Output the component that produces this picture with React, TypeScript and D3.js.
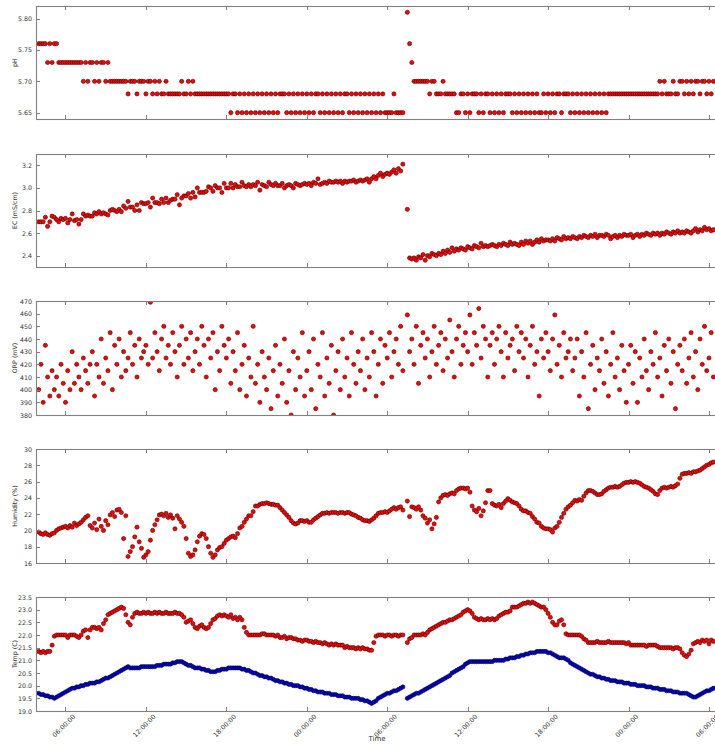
import React from 'react';
import * as d3 from 'd3';

// samples every 10 minutes starting at 04:00 on day 1; one row = 2 hours
const START = new Date(2015, 0, 1, 4, 0);
const STEP_MIN = 10;

const phValues: (number | null)[] = [
  5.76, 5.76, 5.76, 5.76, 5.73, 5.76, 5.73, 5.76, 5.76, 5.73, 5.73, 5.73,
  5.73, 5.73, 5.73, 5.73, 5.73, 5.73, 5.73, 5.73, 5.70, 5.73, 5.70, 5.73,
  5.73, 5.70, 5.73, 5.70, 5.73, 5.73, 5.70, 5.73, 5.70, 5.70, 5.70, 5.70,
  5.70, 5.70, 5.70, 5.70, 5.68, 5.70, 5.70, 5.70, 5.68, 5.70, 5.70, 5.70,
  5.68, 5.70, 5.70, 5.68, 5.70, 5.68, 5.70, 5.68, 5.68, 5.70, 5.68, 5.68,
  5.68, 5.68, 5.68, 5.68, 5.70, 5.68, 5.68, 5.70, 5.68, 5.70, 5.68, 5.68,
  5.68, 5.68, 5.68, 5.68, 5.68, 5.68, 5.68, 5.68, 5.68, 5.68, 5.68, 5.68,
  5.68, 5.68, 5.65, 5.68, 5.68, 5.65, 5.68, 5.65, 5.68, 5.65, 5.68, 5.65,
  5.68, 5.65, 5.68, 5.65, 5.68, 5.65, 5.68, 5.65, 5.68, 5.65, 5.68, 5.65,
  5.68, 5.68, 5.68, 5.65, 5.68, 5.65, 5.68, 5.65, 5.68, 5.65, 5.68, 5.65,
  5.68, 5.65, 5.68, 5.65, 5.68, 5.68, 5.65, 5.68, 5.65, 5.68, 5.65, 5.68,
  5.65, 5.68, 5.65, 5.68, 5.65, 5.68, 5.68, 5.65, 5.68, 5.65, 5.68, 5.65,
  5.68, 5.65, 5.68, 5.65, 5.68, 5.65, 5.68, 5.65, 5.68, 5.65, 5.68, 5.65,
  5.65, 5.65, 5.65, 5.68, 5.65, 5.65, 5.65, 5.65, null, 5.81, 5.76, 5.73,
  5.70, 5.70, 5.70, 5.70, 5.70, 5.70, 5.70, 5.68, 5.70, 5.70, 5.68, 5.68,
  5.68, 5.70, 5.68, 5.68, 5.68, 5.68, 5.68, 5.65, 5.65, 5.68, 5.68, 5.65,
  5.68, 5.65, 5.68, 5.68, 5.68, 5.65, 5.68, 5.65, 5.68, 5.68, 5.65, 5.68,
  5.65, 5.68, 5.65, 5.68, 5.65, 5.68, 5.68, 5.68, 5.65, 5.68, 5.65, 5.68,
  5.65, 5.68, 5.65, 5.68, 5.65, 5.68, 5.65, 5.68, 5.65, 5.65, 5.68, 5.65,
  5.68, 5.65, 5.68, 5.65, 5.68, 5.68, 5.65, 5.68, 5.68, 5.68, 5.65, 5.68,
  5.65, 5.68, 5.65, 5.68, 5.65, 5.68, 5.65, 5.68, 5.65, 5.68, 5.65, 5.68,
  5.65, 5.68, 5.65, 5.68, 5.68, 5.68, 5.68, 5.68, 5.68, 5.68, 5.68, 5.68,
  5.68, 5.68, 5.68, 5.68, 5.68, 5.68, 5.68, 5.68, 5.68, 5.68, 5.68, 5.68,
  5.68, 5.68, 5.70, 5.68, 5.70, 5.68, 5.68, 5.68, 5.70, 5.68, 5.68, 5.70,
  5.70, 5.68, 5.70, 5.68, 5.70, 5.68, 5.70, 5.70, 5.68, 5.70, 5.70, 5.68,
  5.70, 5.68, 5.70,
];

const ecValues: (number | null)[] = [
  2.70, 2.70, 2.70, 2.74, 2.66, 2.70, 2.75, 2.74, 2.72, 2.70, 2.73, 2.72,
  2.73, 2.69, 2.72, 2.77, 2.71, 2.72, 2.68, 2.72, 2.77, 2.75, 2.76, 2.75,
  2.75, 2.78, 2.77, 2.79, 2.77, 2.78, 2.77, 2.76, 2.80, 2.81, 2.80, 2.79,
  2.81, 2.79, 2.84, 2.82, 2.88, 2.83, 2.83, 2.80, 2.85, 2.80, 2.87, 2.86,
  2.86, 2.87, 2.83, 2.91, 2.87, 2.87, 2.86, 2.90, 2.87, 2.91, 2.87, 2.89,
  2.90, 2.90, 2.94, 2.85, 2.91, 2.93, 2.93, 2.95, 2.91, 2.96, 2.92, 3.00,
  2.96, 2.96, 2.96, 2.97, 3.01, 3.00, 2.97, 3.02, 3.00, 3.00, 2.96, 3.04,
  3.00, 3.00, 3.04, 3.00, 3.03, 3.01, 3.01, 3.05, 3.02, 3.01, 3.03, 3.01,
  3.03, 3.02, 3.05, 2.98, 3.03, 3.02, 3.01, 3.05, 3.03, 3.02, 3.04, 3.02,
  3.02, 3.04, 3.00, 3.02, 3.03, 3.02, 3.00, 3.04, 3.03, 3.02, 3.03, 3.04,
  3.03, 3.04, 3.02, 3.05, 3.04, 3.08, 3.03, 3.04, 3.05, 3.04, 3.06, 3.05,
  3.05, 3.06, 3.05, 3.06, 3.04, 3.06, 3.05, 3.06, 3.06, 3.07, 3.05, 3.06,
  3.07, 3.06, 3.07, 3.08, 3.05, 3.08, 3.10, 3.08, 3.11, 3.13, 3.10, 3.12,
  3.13, 3.12, 3.14, 3.16, 3.13, 3.17, 3.15, 3.21, null, 2.81, 2.38, 2.37,
  2.38, 2.36, 2.39, 2.38, 2.41, 2.36, 2.40, 2.39, 2.42, 2.41, 2.40, 2.42,
  2.41, 2.44, 2.42, 2.45, 2.43, 2.47, 2.44, 2.46, 2.45, 2.47, 2.46, 2.45,
  2.48, 2.47, 2.46, 2.49, 2.48, 2.47, 2.51, 2.48, 2.49, 2.48, 2.49, 2.50,
  2.49, 2.48, 2.50, 2.49, 2.51, 2.50, 2.49, 2.52, 2.50, 2.51, 2.50, 2.49,
  2.52, 2.50, 2.53, 2.51, 2.53, 2.50, 2.52, 2.54, 2.52, 2.55, 2.53, 2.54,
  2.54, 2.53, 2.55, 2.53, 2.56, 2.55, 2.54, 2.57, 2.55, 2.56, 2.55, 2.57,
  2.56, 2.55, 2.57, 2.56, 2.58, 2.57, 2.56, 2.58, 2.57, 2.59, 2.56, 2.58,
  2.58, 2.57, 2.59, 2.58, 2.55, 2.57, 2.58, 2.56, 2.58, 2.57, 2.59, 2.58,
  2.58, 2.59, 2.56, 2.58, 2.59, 2.57, 2.59, 2.58, 2.60, 2.59, 2.58, 2.60,
  2.59, 2.60, 2.58, 2.60, 2.59, 2.61, 2.60, 2.59, 2.61, 2.60, 2.62, 2.60,
  2.61, 2.60, 2.62, 2.61, 2.60, 2.62, 2.64, 2.61, 2.63, 2.62, 2.65, 2.63,
  2.64, 2.62, 2.63,
];

const orpValues: (number | null)[] = [
  400, 420, 390, 435, 410, 395, 415, 400, 410, 395, 420, 405,
  390, 415, 400, 430, 405, 420, 410, 400, 425, 415, 405, 420,
  430, 395, 420, 410, 440, 405, 425, 415, 445, 400, 435, 420,
  440, 410, 430, 415, 425, 445, 420, 435, 410, 440, 425, 430,
  435, 420, 469, 425, 445, 430, 415, 440, 450, 425, 435, 420,
  445, 430, 410, 435, 450, 420, 440, 425, 445, 415, 430, 440,
  420, 450, 435, 410, 440, 425, 445, 400, 430, 415, 450, 435,
  425, 440, 405, 430, 415, 445, 400, 420, 435, 395, 425, 410,
  450, 405, 420, 390, 430, 410, 400, 425, 385, 415, 435, 395,
  420, 405, 440, 390, 415, 380, 430, 400, 425, 410, 445, 395,
  415, 430, 400, 440, 385, 420, 410, 445, 395, 425, 405, 435,
  380, 415, 430, 400, 440, 410, 425, 395, 445, 420, 405, 430,
  415, 440, 400, 425, 410, 445, 430, 395, 420, 440, 405, 435,
  425, 445, 410, 430, 440, 420, 450, 415, null, 459, 430, 440,
  420, 450, 405, 435, 445, 425, 440, 410, 430, 450, 420, 435,
  445, 415, 440, 425, 455, 430, 410, 440, 450, 420, 435, 445,
  430, 459, 420, 445, 435, 464, 425, 450, 440, 410, 435, 445,
  420, 440, 450, 430, 410, 445, 425, 435, 440, 415, 450, 430,
  445, 425, 440, 410, 435, 450, 420, 430, 395, 440, 425, 445,
  430, 415, 440, 459, 420, 435, 410, 445, 425, 430, 440, 415,
  425, 440, 395, 430, 410, 445, 385, 420, 435, 400, 425, 415,
  440, 405, 430, 395, 420, 445, 410, 425, 400, 435, 415, 390,
  420, 435, 405, 430, 390, 425, 410, 440, 415, 400, 430, 420,
  445, 410, 425, 395, 435, 415, 440, 405, 430, 385, 420, 435,
  415, 440, 405, 425, 445, 410, 430, 400, 440, 420, 450, 415,
  425, 445, 410,
];

const humidityValues: (number | null)[] = [
  19.8, 19.6, 19.5, 19.7, 19.5, 19.4, 19.6, 19.7, 20.0, 20.2, 20.3, 20.4,
  20.5, 20.3, 20.6, 20.4, 20.9, 20.6, 20.8, 21.0, 21.3, 21.6, 21.8, 20.6,
  20.3, 20.9, 20.1, 21.4, 20.5, 20.0, 21.2, 20.7, 21.9, 22.2, 21.7, 22.5,
  22.6, 22.2, 19.0, 21.8, 16.8, 17.4, 18.0, 19.2, 20.4, 18.6, 17.8, 16.7,
  17.0, 17.4, 18.8, 20.0, 20.7, 21.3, 21.9, 22.0, 21.8, 22.1, 21.6, 21.9,
  21.5, 20.2, 21.8, 21.4, 21.0, 20.5, 19.0, 17.2, 16.8, 17.0, 17.6, 18.6,
  19.3, 19.6, 19.5, 19.0, 18.0, 17.2, 16.7, 17.0, 17.6, 17.9, 18.0, 18.4,
  18.8, 19.0, 19.2, 19.3, 19.1, 19.6, 20.3, 20.5, 21.0, 21.4, 21.8, 21.8,
  22.3, 23.0, 23.0, 23.2, 23.3, 23.3, 23.4, 23.3, 23.2, 23.2, 23.1, 23.1,
  22.8, 22.5, 22.2, 21.9, 21.6, 21.2, 20.9, 20.8, 20.9, 21.2, 21.2, 21.1,
  21.2, 21.0, 21.0, 21.3, 21.5, 21.7, 21.9, 22.1, 22.1, 22.2, 22.1, 22.2,
  22.2, 22.2, 22.1, 22.2, 22.2, 22.1, 22.2, 22.2, 22.0, 21.9, 21.8, 21.6,
  21.5, 21.3, 21.2, 21.2, 21.1, 21.3, 21.5, 21.8, 22.1, 22.2, 22.2, 22.3,
  22.2, 22.4, 22.6, 22.8, 22.6, 22.8, 22.9, 22.5, null, 23.6, 21.7, 22.9,
  22.8, 22.6, 22.9, 22.5, 21.8, 21.5, 20.9, 21.3, 20.2, 20.8, 21.6, 23.5,
  24.0, 24.3, 24.4, 24.3, 24.5, 24.6, 24.5, 24.9, 25.1, 25.2, 25.2, 25.1,
  25.2, 24.7, 23.0, 22.5, 22.3, 22.7, 21.8, 22.4, 23.4, 24.9, 24.9, 23.3,
  23.1, 23.0, 23.2, 22.8, 23.3, 23.6, 23.9, 23.7, 23.5, 23.4, 23.3, 23.0,
  22.6, 22.4, 22.4, 22.2, 22.1, 21.7, 21.4, 21.0, 20.9, 20.5, 20.3, 20.2,
  20.2, 20.1, 19.8, 20.3, 20.5, 21.0, 21.6, 22.1, 22.6, 22.9, 23.1, 23.4,
  23.7, 23.6, 23.8, 23.7, 24.2, 24.6, 24.9, 24.9, 24.8, 24.6, 24.4, 24.4,
  24.5, 24.8, 25.0, 25.2, 25.3, 25.3, 25.4, 25.3, 25.4, 25.6, 25.8, 25.9,
  25.9, 26.0, 25.9, 26.0, 25.9, 25.8, 25.6, 25.4, 25.3, 25.2, 25.0, 24.8,
  24.5, 24.4, 24.9, 25.2, 25.3, 25.2, 25.3, 25.4, 25.3, 25.5, 25.7, 26.4,
  26.9, 27.0, 27.0, 27.1, 27.0, 27.2, 27.2, 27.3, 27.4, 27.6, 27.8, 28.0,
  28.1, 28.3, 28.4,
];

const tempRedValues: (number | null)[] = [
  21.35, 21.3, 21.35, 21.3, 21.35, 21.35, 21.6, 21.95, 22.0, 22.0, 22.0, 22.0,
  22.0, 21.9, 22.0, 22.0, 22.0, 21.95, 21.9, 22.0, 22.15, 22.2, 21.9, 22.2,
  22.3, 22.3, 22.25, 22.3, 22.2, 22.45, 22.6, 22.8, 22.85, 22.9, 22.95, 23.0,
  23.05, 23.1, 23.05, 22.8, 22.5, 22.4, 22.7, 22.85, 22.9, 22.85, 22.85, 22.9,
  22.85, 22.9, 22.85, 22.85, 22.9, 22.85, 22.9, 22.85, 22.85, 22.9, 22.85, 22.85,
  22.85, 22.9, 22.85, 22.85, 22.8, 22.7, 22.5, 22.55, 22.6, 22.45, 22.3, 22.25,
  22.35, 22.4, 22.3, 22.25, 22.3, 22.45, 22.6, 22.65, 22.75, 22.8, 22.75, 22.8,
  22.75, 22.7, 22.8, 22.65, 22.7, 22.6, 22.7, 22.6, 22.3, 22.1, 22.0, 22.0,
  22.0, 22.0, 22.0, 22.0, 22.05, 22.05, 22.0, 22.0, 22.0, 22.0, 21.95, 22.0,
  21.9, 21.9, 21.95, 21.85, 21.9, 21.9, 21.85, 21.85, 21.8, 21.8, 21.75, 21.8,
  21.8, 21.75, 21.75, 21.7, 21.75, 21.7, 21.7, 21.65, 21.7, 21.65, 21.6, 21.65,
  21.6, 21.65, 21.6, 21.6, 21.6, 21.5, 21.55, 21.5, 21.5, 21.5, 21.45, 21.5,
  21.45, 21.5, 21.45, 21.45, 21.4, 21.4, 21.7, 21.95, 22.0, 22.0, 22.0, 21.95,
  22.0, 22.0, 21.95, 22.0, 22.0, 21.95, 22.0, 22.0, null, 21.7, 21.85, 21.9,
  22.0, 22.0, 22.0, 22.0, 22.05, 22.0, 22.1, 22.2, 22.25, 22.3, 22.35, 22.4,
  22.45, 22.5, 22.5, 22.55, 22.6, 22.6, 22.65, 22.7, 22.75, 22.8, 22.9, 22.95,
  23.0, 22.95, 22.85, 22.7, 22.65, 22.6, 22.65, 22.6, 22.6, 22.65, 22.6, 22.65,
  22.6, 22.65, 22.75, 22.8, 22.85, 22.9, 22.9, 22.95, 23.1, 23.1, 23.1, 23.15,
  23.2, 23.25, 23.25, 23.3, 23.25, 23.3, 23.25, 23.2, 23.15, 23.1, 23.1, 23.0,
  22.85, 22.7, 22.5, 22.4, 22.4, 22.55, 22.6, 22.4, 22.05, 22.0, 22.0, 22.0,
  22.0, 22.0, 22.0, 21.95, 21.85, 21.8, 21.7, 21.7, 21.7, 21.7, 21.75, 21.7,
  21.7, 21.7, 21.7, 21.75, 21.7, 21.7, 21.7, 21.7, 21.7, 21.7, 21.7, 21.65,
  21.7, 21.6, 21.6, 21.6, 21.6, 21.6, 21.6, 21.6, 21.55, 21.6, 21.6, 21.6,
  21.6, 21.55, 21.5, 21.5, 21.5, 21.5, 21.5, 21.5, 21.45, 21.5, 21.5, 21.45,
  21.3, 21.2, 21.15, 21.25, 21.4, 21.65, 21.7, 21.75, 21.7, 21.8, 21.75, 21.8,
  21.65, 21.8, 21.75,
];

const tempBlueValues: (number | null)[] = [
  19.7, 19.65, 19.65, 19.6, 19.6, 19.55, 19.55, 19.5, 19.55, 19.6, 19.65, 19.7,
  19.75, 19.8, 19.85, 19.9, 19.9, 19.95, 19.95, 20.0, 20.0, 20.05, 20.05, 20.1,
  20.1, 20.1, 20.15, 20.15, 20.2, 20.25, 20.3, 20.3, 20.35, 20.4, 20.45, 20.5,
  20.55, 20.6, 20.65, 20.7, 20.75, 20.7, 20.7, 20.7, 20.7, 20.7, 20.75, 20.75,
  20.75, 20.75, 20.75, 20.75, 20.75, 20.8, 20.8, 20.8, 20.85, 20.85, 20.85, 20.85,
  20.9, 20.9, 20.95, 20.95, 20.95, 20.9, 20.85, 20.8, 20.8, 20.75, 20.7, 20.7,
  20.7, 20.65, 20.65, 20.6, 20.6, 20.55, 20.55, 20.55, 20.6, 20.6, 20.65, 20.65,
  20.65, 20.7, 20.7, 20.7, 20.7, 20.7, 20.7, 20.65, 20.65, 20.6, 20.6, 20.55,
  20.5, 20.5, 20.45, 20.4, 20.4, 20.35, 20.35, 20.3, 20.3, 20.25, 20.2, 20.2,
  20.15, 20.15, 20.1, 20.1, 20.05, 20.05, 20.0, 20.0, 20.0, 19.95, 19.95, 19.9,
  19.9, 19.85, 19.85, 19.8, 19.8, 19.75, 19.75, 19.75, 19.7, 19.7, 19.7, 19.65,
  19.65, 19.65, 19.6, 19.6, 19.6, 19.55, 19.55, 19.55, 19.5, 19.5, 19.5, 19.5,
  19.45, 19.45, 19.4, 19.4, 19.35, 19.3, 19.35, 19.4, 19.5, 19.55, 19.6, 19.65,
  19.7, 19.7, 19.75, 19.8, 19.8, 19.85, 19.9, 19.95, null, 19.5, 19.55, 19.6,
  19.65, 19.7, 19.7, 19.75, 19.8, 19.85, 19.9, 19.95, 20.0, 20.05, 20.1, 20.15,
  20.2, 20.25, 20.3, 20.35, 20.4, 20.5, 20.55, 20.6, 20.65, 20.7, 20.75, 20.85,
  20.9, 20.95, 20.95, 20.95, 20.95, 20.95, 20.95, 20.95, 20.95, 20.95, 20.95, 20.95,
  21.0, 21.0, 21.0, 21.0, 21.0, 21.05, 21.05, 21.1, 21.1, 21.1, 21.15, 21.15,
  21.2, 21.2, 21.25, 21.25, 21.3, 21.3, 21.3, 21.35, 21.35, 21.35, 21.35, 21.35,
  21.3, 21.3, 21.25, 21.2, 21.15, 21.1, 21.1, 21.1, 21.05, 21.0, 20.9, 20.85,
  20.8, 20.75, 20.7, 20.65, 20.6, 20.55, 20.5, 20.45, 20.45, 20.4, 20.35, 20.35,
  20.3, 20.3, 20.25, 20.25, 20.2, 20.2, 20.2, 20.15, 20.15, 20.15, 20.1, 20.1,
  20.1, 20.05, 20.05, 20.05, 20.0, 20.0, 20.0, 20.0, 19.95, 19.95, 19.95, 19.9,
  19.9, 19.9, 19.85, 19.85, 19.85, 19.8, 19.8, 19.8, 19.75, 19.75, 19.75, 19.7,
  19.7, 19.7, 19.7, 19.65, 19.6, 19.55, 19.55, 19.6, 19.65, 19.7, 19.75, 19.8,
  19.8, 19.85, 19.9,
];

const phTicks = [5.65, 5.7, 5.75, 5.8];
const ecTicks = [2.4, 2.6, 2.8, 3.0, 3.2];
const orpTicks = [380, 390, 400, 410, 420, 430, 440, 450, 460, 470];
const humidityTicks = [16, 18, 20, 22, 24, 26, 28, 30];
const tempTicks = [19.0, 19.5, 20.0, 20.5, 21.0, 21.5, 22.0, 22.5, 23.0, 23.5];

const W = 715;
const H = 744;
const LEFT = 36;
const FRAME_RIGHT = 740; // right spine sits past the visible edge
const FONT = 'DejaVu Sans, sans-serif';
const SPINE = '#808080';
const TEXT = '#333';

interface Series {
  values: (number | null)[];
  fill: string;
  stroke: string;
}

interface PanelDef {
  label: string;
  top: number;
  bottom: number;
  domain: [number, number];
  ticks: number[];
  fmt: (v: number) => string;
  series: Series[];
}

const red = { fill: '#ff0000', stroke: '#2a0000' };
const blue = { fill: '#0000c8', stroke: '#000030' };

const panels: PanelDef[] = [
  { label: 'pH', top: 6, bottom: 119, domain: [5.64, 5.82], ticks: phTicks, fmt: d3.format('.2f'), series: [{ values: phValues, ...red }] },
  { label: 'EC (mS/cm)', top: 154, bottom: 267, domain: [2.3, 3.3], ticks: ecTicks, fmt: d3.format('.1f'), series: [{ values: ecValues, ...red }] },
  { label: 'ORP (mV)', top: 301, bottom: 415, domain: [380, 470], ticks: orpTicks, fmt: d3.format('d'), series: [{ values: orpValues, ...red }] },
  { label: 'Humidity (%)', top: 449, bottom: 563, domain: [16, 30], ticks: humidityTicks, fmt: d3.format('d'), series: [{ values: humidityValues, ...red }] },
  {
    label: 'Temp (C)', top: 597, bottom: 711, domain: [19, 23.5], ticks: tempTicks, fmt: d3.format('.1f'),
    series: [{ values: tempRedValues, ...red }, { values: tempBlueValues, ...blue }],
  },
];

const x = d3.scaleTime()
  .domain([new Date(2015, 0, 1, 3, 48), new Date(2015, 0, 3, 6, 27)])
  .range([LEFT, W]);

const xTicks = x.ticks(d3.timeHour.every(6)!);
const timeFmt = d3.timeFormat('%H:%M:%S');
const timeAt = (i: number) => d3.timeMinute.offset(START, i * STEP_MIN);

const Panel: React.FC<{ p: PanelDef; last: boolean }> = ({ p, last }) => {
  const y = d3.scaleLinear().domain(p.domain).range([p.bottom, p.top]);
  const mid = (p.top + p.bottom) / 2;
  return (
    <g>
      {p.series.map((s, si) => (
        <g key={si} clipPath={`url(#clip-${p.label.replace(/\W/g, '')})`}>
          {s.values.map((v, i) => v == null ? null : (
            <circle key={i} cx={x(timeAt(i))} cy={y(v)} r={2.1}
              fill={s.fill} stroke={s.stroke} strokeWidth={0.55} />
          ))}
        </g>
      ))}
      <rect x={LEFT + 0.5} y={p.top + 0.5} width={FRAME_RIGHT - LEFT} height={p.bottom - p.top}
        fill="none" stroke={SPINE} strokeWidth={1.1} />
      {p.ticks.map(t => (
        <g key={t}>
          <line x1={LEFT} x2={LEFT + 4} y1={Math.round(y(t)) + 0.5} y2={Math.round(y(t)) + 0.5} stroke={SPINE} />
          <text x={LEFT - 4} y={y(t)} textAnchor="end" dominantBaseline="central"
            fontSize={6.3} fill={TEXT} fontFamily={FONT}>{p.fmt(t)}</text>
        </g>
      ))}
      {xTicks.map(t => (
        <g key={+t}>
          <line x1={Math.round(x(t)) + 0.5} x2={Math.round(x(t)) + 0.5} y1={p.top} y2={p.top + 4} stroke={SPINE} />
          <line x1={Math.round(x(t)) + 0.5} x2={Math.round(x(t)) + 0.5} y1={p.bottom} y2={p.bottom - 4} stroke={SPINE} />
          {last && (
            <text x={x(t) - 1.5} y={726} textAnchor="middle" dominantBaseline="central"
              transform={`rotate(-45, ${x(t) - 1.5}, 726)`} fontSize={6.5} fill={TEXT} fontFamily={FONT}>
              {timeFmt(t)}
            </text>
          )}
        </g>
      ))}
      <text x={14} y={mid} textAnchor="middle" dominantBaseline="central"
        transform={`rotate(-90, 14, ${mid})`} fontSize={6.3} fill={TEXT} fontFamily={FONT}>{p.label}</text>
    </g>
  );
};

export default function App() {
  return (
    <svg width={W} height={H} style={{ position: 'absolute', left: 0, top: 0, background: '#fff' }}>
      <defs>
        {panels.map(p => (
          <clipPath key={p.label} id={`clip-${p.label.replace(/\W/g, '')}`}>
            <rect x={LEFT} y={p.top} width={FRAME_RIGHT - LEFT} height={p.bottom - p.top + 1} />
          </clipPath>
        ))}
      </defs>
      {panels.map((p, i) => <Panel key={p.label} p={p} last={i === panels.length - 1} />)}
      <text x={377} y={741} textAnchor="middle" fontSize={7} fill={TEXT} fontFamily={FONT}>Time</text>
    </svg>
  );
}
